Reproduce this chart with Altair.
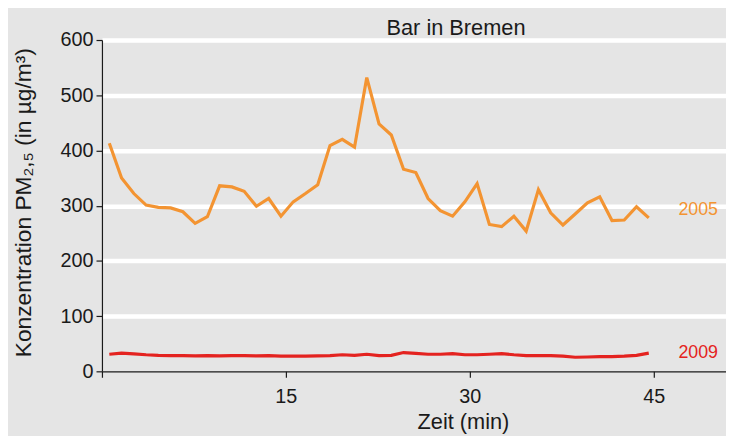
import altair as alt
import pandas as pd

# ---- data ----
minutes = [0.6, 1.6, 2.6, 3.6, 4.6, 5.6, 6.6, 7.6, 8.6, 9.6,
           10.6, 11.6, 12.6, 13.6, 14.6, 15.6, 16.6, 17.6, 18.6, 19.6,
           20.6, 21.6, 22.6, 23.6, 24.6, 25.6, 26.6, 27.6, 28.6, 29.6,
           30.6, 31.6, 32.6, 33.6, 34.6, 35.6, 36.6, 37.6, 38.6, 39.6,
           40.6, 41.6, 42.6, 43.6, 44.6]

pm_2005 = [413, 350, 322, 301, 297, 296, 289, 268, 280, 336,
           334, 326, 299, 313, 281, 307, 322, 338, 409, 420,
           406, 532, 448, 428, 366, 360, 313, 291, 281, 307,
           340, 266, 262, 281, 254, 329, 287, 265, 285, 305,
           316, 273, 274, 298, 278]

pm_2009 = [31, 33, 31.5, 30, 29, 28.5, 28.5, 28, 28.5, 28,
           28.5, 28.5, 28, 28.5, 27.5, 27.5, 27.5, 28, 28.5, 30,
           29, 31, 28.5, 29, 34, 32.5, 31, 31, 32, 30,
           30, 31, 32, 30, 28.5, 28.5, 28.5, 27.5, 25.5, 26,
           26.5, 26.5, 27.5, 29, 33]

series_names = ["2005", "2009"]
series_colors = ["#f39432", "#e42320"]
x_ticks = [0, 15, 30, 45]
y_ticks = [0, 100, 200, 300, 400, 500, 600]
chart_title = ["Bar in Bremen"]

FONT = "Liberation Sans"
INK = "#1a1a1a"

df = pd.concat([
    pd.DataFrame({"t": minutes, "v": pm_2005, "series": series_names[0]}),
    pd.DataFrame({"t": minutes, "v": pm_2009, "series": series_names[1]}),
])

lab05 = pd.DataFrame({"t": [minutes[-1]], "v": [pm_2005[-1]], "series": [series_names[0]]})
lab09 = pd.DataFrame({"t": [minutes[-1]], "v": [pm_2009[-1]], "series": [series_names[1]]})
title_df = pd.DataFrame({"title": chart_title})

xscale = alt.Scale(domain=[0, 50.9], nice=False, zero=False)
yscale = alt.Scale(domain=[0, 600], nice=False)
cscale = alt.Scale(domain=series_names, range=series_colors)

xaxis = alt.Axis(
    values=x_ticks,
    labelExpr="datum.value == 0 ? '' : datum.label",
    grid=False,
    domainColor=INK, domainWidth=1.2,
    tickColor=INK, tickSize=6, tickWidth=1.2,
    labelFontSize=20, labelColor=INK, labelFont=FONT,
    labelBaseline="alphabetic", labelPadding=25.5, labelFlush=False,
    title="Zeit (min)", titleFontSize=22, titleFontWeight="normal",
    titleFont=FONT, titleColor=INK,
    titleX=365, titleY=57.5, titleAlign="center", titleBaseline="alphabetic",
)

yaxis = alt.Axis(
    values=y_ticks,
    grid=True, gridColor="white", gridWidth=4.5,
    gridOpacity={"condition": {"test": "datum.value === 0", "value": 0}, "value": 1},
    domainColor=INK, domainWidth=1.2,
    tickColor=INK, tickSize=6, tickWidth=1.2,
    labelFontSize=20, labelColor=INK, labelFont=FONT, labelPadding=3,
    title="Konzentration PM₂,₅  (in µg/m³)", titleFontSize=23,
    titleFontWeight="normal", titleFont=FONT, titleColor=INK,
    titleAngle=270, titleX=-72, titleY=164, titleAlign="center",
    titleBaseline="alphabetic",
)

lines = alt.Chart(df).mark_line(strokeWidth=3.2).encode(
    x=alt.X("t:Q", scale=xscale, axis=xaxis),
    y=alt.Y("v:Q", scale=yscale, axis=yaxis),
    color=alt.Color("series:N", scale=cscale, legend=None),
    detail="series:N",
)

text05 = alt.Chart(lab05).mark_text(
    align="left", baseline="middle", dx=30, dy=-8, fontSize=18, font=FONT
).encode(
    x=alt.X("t:Q", scale=xscale),
    y=alt.Y("v:Q", scale=yscale),
    text="series:N",
    color=alt.Color("series:N", scale=cscale, legend=None),
)

text09 = alt.Chart(lab09).mark_text(
    align="left", baseline="middle", dx=30, dy=0, fontSize=18, font=FONT
).encode(
    x=alt.X("t:Q", scale=xscale),
    y=alt.Y("v:Q", scale=yscale),
    text="series:N",
    color=alt.Color("series:N", scale=cscale, legend=None),
)

# chart title, drawn as a text mark above the plot
title_mark = alt.Chart(title_df).mark_text(
    align="center", baseline="alphabetic", fontSize=22, font=FONT, color=INK
).encode(
    x=alt.value(358),
    y=alt.value(-5),
    text="title:N",
)

chart = alt.layer(lines, text05, text09, title_mark).properties(
    width=631,
    height=335,
    background="#e5e5e5",
    autosize=alt.AutoSizeParams(type="none"),
    padding={"left": 95, "top": 30, "right": 0, "bottom": 63},
).configure_view(strokeWidth=0)

chart.save("out.html", embed_options={"renderer": "svg", "actions": False})
